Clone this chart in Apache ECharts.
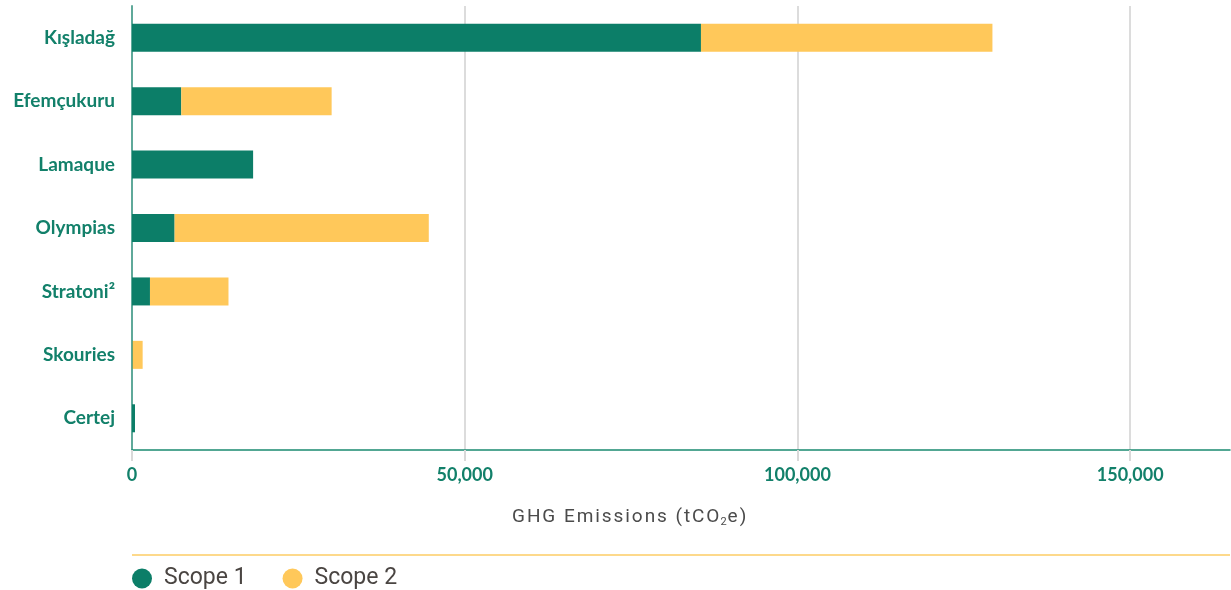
<!DOCTYPE html>
<html>
<head>
<meta charset="utf-8">
<title>GHG Emissions by site</title>
<script src="https://cdn.jsdelivr.net/npm/echarts@6/dist/echarts.min.js"></script>
<style>
  html, body { margin: 0; padding: 0; background: #fff; }
  #chart { width: 1231px; height: 590px; }
</style>
</head>
<body>
<div id="chart"></div>
<script>
// sites, top to bottom
const sites = ['Kışladağ', 'Efemçukuru', 'Lamaque', 'Olympias', 'Stratoni²', 'Skouries', 'Certej'];
// tCO2e
const scope1 = [85500, 7400, 18200, 6400, 2700, 100, 450];
const scope2 = [43800, 22600, 0, 38200, 11800, 1500, 0];
const xTicks = [0, 50000, 100000, 150000];

const green = '#0c7e68';
const yellow = '#ffc85a';
const labelGreen = '#12806a';

// loose letter spacing for the axis title
const spaced = s => s.split('').join('\u200A');

const chart = echarts.init(document.getElementById('chart'));

const option = {
  animation: false,
  title: {
    text: '{a|' + spaced('GHG Emissions (tCO') + '}{s|2}{a|' + spaced('e)') + '}',
    left: 512,
    top: 507,
    padding: 0,
    textStyle: {
      rich: {
        a: { fontFamily: 'Roboto', fontWeight: 'normal', fontSize: 19, color: '#4b4b4b' },
        s: { fontFamily: 'Roboto', fontWeight: 'normal', fontSize: 11, color: '#4b4b4b', padding: [10, 1, 0, 1] }
      }
    }
  },
  legend: {
    data: ['Scope 1', 'Scope 2'],
    left: 132,
    top: 567,
    padding: 0,
    icon: 'circle',
    itemWidth: 20,
    itemHeight: 20,
    itemGap: 36,
    textStyle: { fontFamily: 'Roboto', fontSize: 23, color: '#4a4542', padding: [0, 0, 0, 7] }
  },
  grid: { left: 132, right: 1, top: 6, height: 444, containLabel: false },
  xAxis: {
    type: 'value',
    min: 0,
    max: 165000,
    interval: 50000,
    axisLine: { show: true, lineStyle: { color: '#1a8a70', width: 1.5 } },
    axisTick: { show: true, length: 11, customValues: xTicks, lineStyle: { color: '#d9d9d9', width: 2 } },
    splitLine: { show: true, lineStyle: { color: '#dcdcdc', width: 2 } },
    axisLabel: {
      margin: 16,
      customValues: xTicks,
      fontFamily: 'Lato',
      fontWeight: 'bold',
      fontSize: 18,
      color: labelGreen,
      formatter: v => v.toLocaleString('en-US')
    }
  },
  yAxis: {
    type: 'category',
    data: sites,
    inverse: true,
    axisLine: { show: true, lineStyle: { color: '#5fa99a', width: 2 } },
    axisTick: { show: false },
    axisLabel: {
      margin: 17,
      fontFamily: 'Lato',
      fontWeight: 'bold',
      fontSize: 19,
      color: labelGreen
    }
  },
  series: [
    { name: 'Scope 1', type: 'bar', stack: 'ghg', barWidth: 28, itemStyle: { color: green }, data: scope1 },
    { name: 'Scope 2', type: 'bar', stack: 'ghg', barWidth: 28, itemStyle: { color: yellow }, data: scope2 }
  ],
  graphic: [
    {
      type: 'line',
      shape: { x1: 132, y1: 555, x2: 1230, y2: 555 },
      style: { stroke: '#fdd98b', lineWidth: 2 }
    }
  ]
};

chart.setOption(option);
</script>
</body>
</html>
